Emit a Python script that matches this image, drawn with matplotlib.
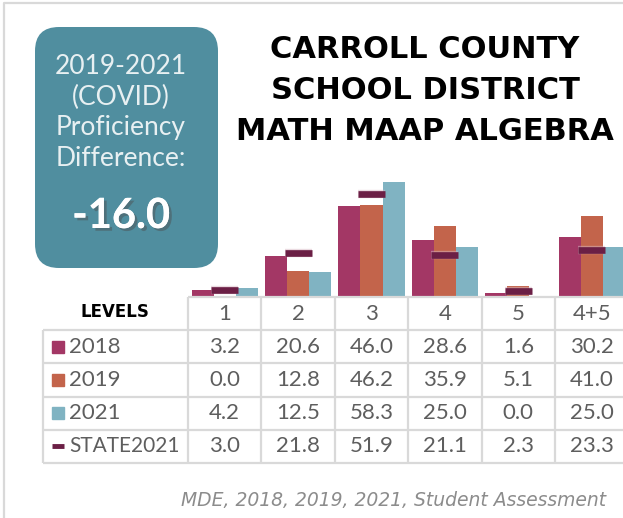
import matplotlib
matplotlib.use('Agg')
import matplotlib.pyplot as plt
import matplotlib.patheffects as pe
from matplotlib.patches import FancyBboxPatch
import numpy as np

levels = ['1', '2', '3', '4', '5', '4+5']
series = ['2018', '2019', '2021']
v2018 = [3.2, 20.6, 46.0, 28.6, 1.6, 30.2]
v2019 = [0.0, 12.8, 46.2, 35.9, 5.1, 41.0]
v2021 = [4.2, 12.5, 58.3, 25.0, 0.0, 25.0]
state2021 = [3.0, 21.8, 51.9, 21.1, 2.3, 23.3]
box_lines = ['2019-2021', '(COVID)', 'Proficiency', 'Difference:']
box_value = '-16.0'
title_lines = ['CARROLL COUNTY', 'SCHOOL DISTRICT', 'MATH MAAP ALGEBRA']
source = 'MDE, 2018, 2019, 2021, Student Assessment'

colors = ['#A33765', '#C3644B', '#80B3C2']
state_color = '#6B1F45'
grid_color = '#D9D9D9'
txt_gray = '#5E5E5E'
light = ['Lato', 'DejaVu Sans']

W, H = 623, 518
fig = plt.figure(figsize=(W / 100, H / 100), dpi=100)

def px(x0, y0, x1, y1):
    # pixel box, top-left origin -> figure fraction
    return [x0 / W, 1 - y1 / H, (x1 - x0) / W, (y1 - y0) / H]

# background layer in pixel units
bg = fig.add_axes([0, 0, 1, 1])
bg.set_xlim(0, W)
bg.set_ylim(H, 0)
bg.axis('off')
bg.plot([4, 4, W + 5], [H + 5, 3, 3], color=grid_color, lw=1.6, clip_on=False)

bg.add_patch(FancyBboxPatch((35, 27), 183, 241, boxstyle='round,pad=0,rounding_size=24',
                            fc='#508E9F', ec='none'))
for i, s in enumerate(box_lines):
    bg.text(121, 67 + i * 30.5, s, ha='center', va='center', fontsize=19,
            family=light, color='#E8F0F2')
bg.text(121, 216, box_value, ha='center', va='center', fontsize=30, weight='bold',
        family=light, color='white',
        path_effects=[pe.withSimplePatchShadow(offset=(2, -2), alpha=0.45), pe.Normal()])

for i, s in enumerate(title_lines):
    bg.text(425, 50 + i * 40.5, s, ha='center', va='center', fontsize=22,
            weight='bold', color='black')

bg.text(606, 501, source, ha='right', va='center', fontsize=13.5, style='italic',
        color='#8C8C8C')

# bars
x = np.arange(len(levels))
ax = fig.add_axes(px(188, 178.4, 628.4, 296))
ax.set_xlim(-0.5, 5.5)
ax.set_ylim(0, 60)
ax.axis('off')
w = 0.3
for i, vals in enumerate([v2018, v2019, v2021]):
    ax.bar(x + (i - 1) * w, vals, w, color=colors[i], zorder=2)
ax.hlines(state2021, x - 0.185, x + 0.185, color=state_color, lw=4.8, zorder=3,
          path_effects=[pe.Stroke(linewidth=6, foreground='#D8B8C4', alpha=0.5), pe.Normal()])

# data table
tax = fig.add_axes(px(43, 297, 628.4, 463))
tax.set_xlim(-2.475, 5.5)
tax.set_ylim(5, 0)
tax.axis('off')
lk = dict(color=grid_color, lw=1.6, clip_on=False)
tax.hlines(0, -0.5, 5.5, **lk)
tax.hlines(np.arange(1, 6), -2.475, 5.5, **lk)
tax.vlines(-2.475, 1, 5, **lk)
tax.vlines(np.arange(-0.5, 6), 0, 5, **lk)

tax.text(-1.49, 0.45, 'LEVELS', ha='center', va='center', fontsize=12,
         weight='bold', color='black')
for j, lv in enumerate(levels):
    tax.text(j, 0.52, lv, ha='center', va='center', fontsize=16,
             family=light, color=txt_gray)

rows = [('2018', v2018, colors[0], 's'), ('2019', v2019, colors[1], 's'),
        ('2021', v2021, colors[2], 's'), ('STATE2021', state2021, state_color, '_')]
for r, (name, vals, c, m) in enumerate(rows):
    yy = r + 1.5
    if m == 's':
        tax.plot(-2.27, yy, marker='s', ms=8.5, color=c, clip_on=False)
    else:
        tax.plot(-2.27, yy, marker='_', ms=9, mew=3.5, color=c, clip_on=False)
    tax.text(-2.12, yy, name, ha='left', va='center', fontsize=16 if m == 's' else 15,
             family=light, color=txt_gray)
    for j, v in enumerate(vals):
        tax.text(j, yy, f'{v:.1f}', ha='center', va='center', fontsize=16,
                 family=light, color=txt_gray)

fig.savefig('out.png', dpi=100)
